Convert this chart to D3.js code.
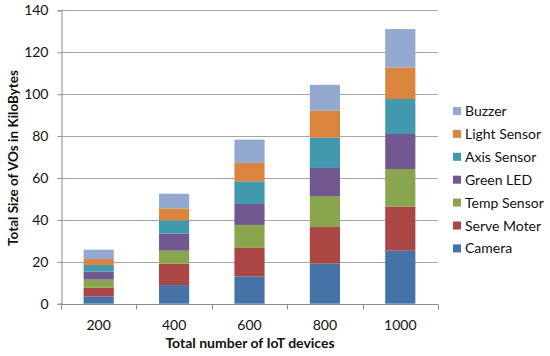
<!DOCTYPE html>
<html lang="en">
<head>
<meta charset="UTF-8">
<title>Total Size of VOs</title>
<script src="https://d3js.org/d3.v7.min.js"></script>
<style>
  body { margin: 0; background: #fff; }
  svg { display: block; font-family: Lato, 'Open Sans', sans-serif; }
</style>
</head>
<body>
<div id="chart"></div>
<script>
// data
const devices = ["200", "400", "600", "800", "1000"];
const seriesNames = ["Camera", "Serve Moter", "Temp Sensor", "Green LED", "Axis Sensor", "Light Sensor", "Buzzer"];
const camera      = [3.5, 8.9, 13.0, 19.1, 25.3];
const serveMoter  = [4.1, 10.2, 13.6, 17.5, 21.1];
const tempSensor  = [3.9, 6.2, 11.0, 14.8, 17.9];
const greenLed    = [3.8, 8.1, 10.0, 13.4, 16.7];
const axisSensor  = [3.2, 6.4, 10.8, 14.4, 16.7];
const lightSensor = [2.8, 5.7, 8.8, 12.9, 15.1];
const buzzer      = [4.5, 7.0, 11.1, 12.4, 18.3];
const yTicks = [0, 20, 40, 60, 80, 100, 120, 140];

const colors = ["#4572A7", "#AA4643", "#89A54E", "#71588F", "#4198AF", "#DB843D", "#93A9CF"];

const width = 550, height = 356;
const margin = { top: 10.4, right: 112, bottom: 52.3, left: 61 };

const seriesValues = [camera, serveMoter, tempSensor, greenLed, axisSensor, lightSensor, buzzer];
const rows = devices.map((d, i) => {
  const r = { device: d };
  seriesNames.forEach((s, j) => r[s] = seriesValues[j][i]);
  return r;
});

const stacked = d3.stack().keys(seriesNames)(rows);

const svg = d3.select("#chart").append("svg")
  .attr("width", width)
  .attr("height", height);

const x = d3.scaleBand()
  .domain(devices)
  .range([margin.left, width - margin.right])
  .paddingInner(0.6)
  .paddingOuter(0.3);

const y = d3.scaleLinear()
  .domain([0, 140])
  .range([height - margin.bottom, margin.top]);

// gridlines
svg.append("g")
  .selectAll("line")
  .data(yTicks.slice(1))
  .join("line")
  .attr("x1", margin.left)
  .attr("x2", width - margin.right)
  .attr("y1", d => Math.round(y(d)) + 0.5)
  .attr("y2", d => Math.round(y(d)) + 0.5)
  .attr("stroke", "#a6a6a6")
  .attr("stroke-width", 1);

// bars
svg.append("g")
  .selectAll("g")
  .data(stacked)
  .join("g")
  .attr("fill", (d, i) => colors[i])
  .selectAll("rect")
  .data(d => d)
  .join("rect")
  .attr("x", d => x(d.data.device))
  .attr("width", x.bandwidth())
  .attr("y", d => y(d[1]))
  .attr("height", d => y(d[0]) - y(d[1]));

// y axis
const yAxis = svg.append("g")
  .attr("transform", `translate(${margin.left + 0.5},0)`)
  .call(d3.axisLeft(y).tickValues(yTicks).tickSize(4).tickPadding(9));
yAxis.select(".domain").attr("stroke", "#8c8c8c");
yAxis.selectAll(".tick line").attr("stroke", "#8c8c8c");
yAxis.selectAll("text").attr("font-size", 14).attr("fill", "#111").attr("font-family", "Lato");

// x axis with ticks between categories
const xAxisG = svg.append("g")
  .attr("transform", `translate(0,${Math.round(y(0)) + 0.5})`);
xAxisG.append("line")
  .attr("x1", margin.left)
  .attr("x2", width - margin.right)
  .attr("stroke", "#8c8c8c");
const boundaries = d3.range(devices.length + 1).map(i => margin.left + i * (width - margin.right - margin.left) / devices.length);
xAxisG.selectAll(".sep")
  .data(boundaries)
  .join("line")
  .attr("class", "sep")
  .attr("x1", d => Math.round(d) + 0.5)
  .attr("x2", d => Math.round(d) + 0.5)
  .attr("y1", 0)
  .attr("y2", 5)
  .attr("stroke", "#8c8c8c");
xAxisG.selectAll(".lbl")
  .data(devices)
  .join("text")
  .attr("class", "lbl")
  .attr("x", d => x(d) + x.bandwidth() / 2)
  .attr("y", 25)
  .attr("text-anchor", "middle")
  .attr("font-size", 14)
  .attr("fill", "#111")
  .text(d => d);

// axis titles
svg.append("text")
  .attr("x", 250)
  .attr("y", 348)
  .attr("text-anchor", "middle")
  .attr("font-size", 14)
  .attr("font-weight", "bold")
  .attr("fill", "#111")
  .text("Total number of IoT devices");

svg.append("text")
  .attr("transform", "translate(18,158) rotate(-90)")
  .attr("text-anchor", "middle")
  .attr("font-size", 13.5)
  .attr("font-weight", "bold")
  .attr("fill", "#111")
  .text("Total Size of VOs in KiloBytes");

// legend, reversed order like the stack
const legendItems = seriesNames.map((s, i) => ({ name: s, color: colors[i] })).reverse();
const legend = svg.append("g")
  .attr("transform", "translate(453,111)")
  .selectAll("g")
  .data(legendItems)
  .join("g")
  .attr("transform", (d, i) => `translate(0,${i * 22.9})`);
legend.append("rect")
  .attr("x", 0)
  .attr("y", -4)
  .attr("width", 8)
  .attr("height", 8)
  .attr("fill", d => d.color);
legend.append("text")
  .attr("x", 12)
  .attr("y", 5)
  .attr("font-size", 14)
  .attr("fill", "#111")
  .text(d => d.name);
</script>
</body>
</html>
